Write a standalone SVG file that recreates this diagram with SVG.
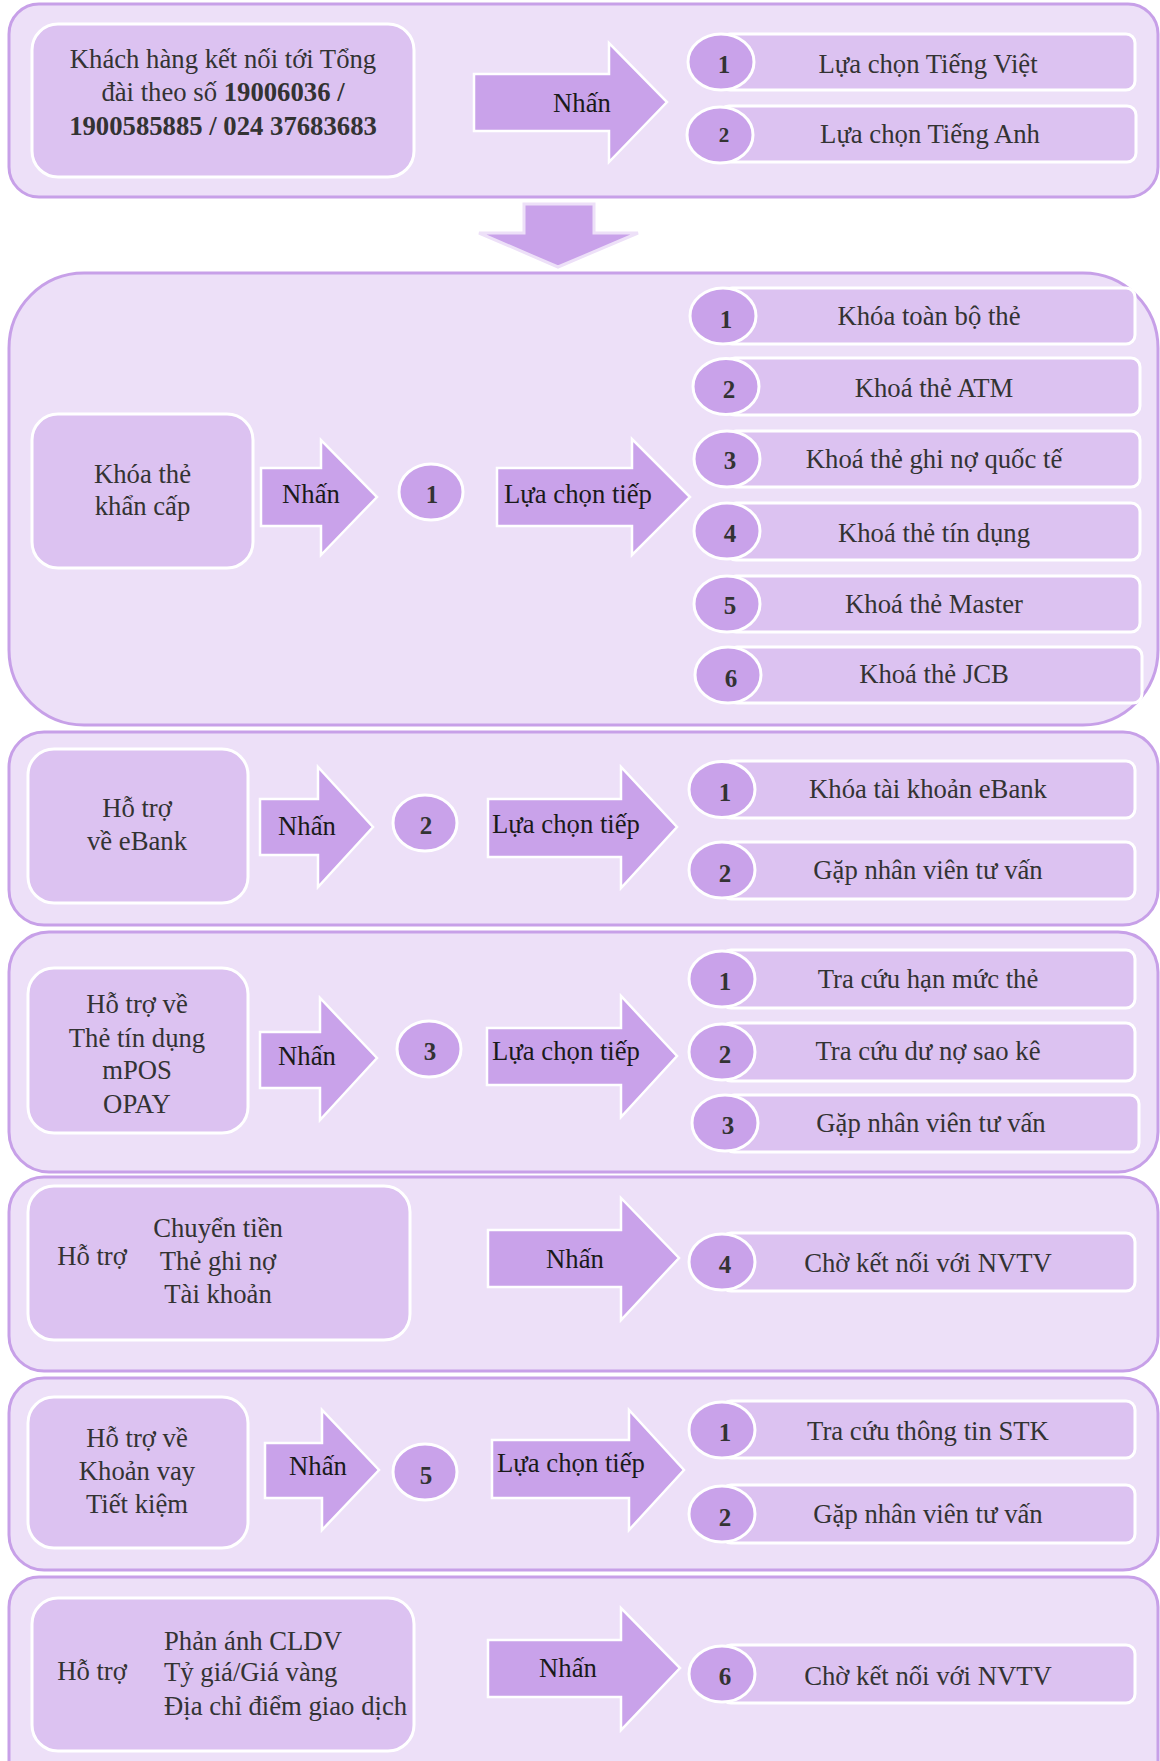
<svg xmlns="http://www.w3.org/2000/svg" width="1160" height="1761" viewBox="0 0 1160 1761">
<style>
.sec{fill:#ede0f8;stroke:#c7a0e8;stroke-width:3}
.box{fill:#dcc2f1;stroke:#ffffff;stroke-width:3}
.arr{fill:#c9a2ea;stroke:#ffffff;stroke-width:2.5}
.down{fill:#c9a2ea;stroke:#ede0f8;stroke-width:3}
.pill{fill:#dcc2f1;stroke:#ffffff;stroke-width:3}
.num{fill:#c9a2ea;stroke:#ffffff;stroke-width:3}
text{font-family:"Liberation Serif","Times New Roman",serif;font-size:26.7px;fill:#333333}
.c{text-anchor:middle}
.b{font-weight:bold}
.n{font-weight:bold;text-anchor:middle;font-size:25px}
.k{fill:#1a1a1a}
</style>

<g id="sec1">
<rect class="sec" x="9" y="4" width="1149" height="193" rx="30"/>
<g id="start">
<rect class="box" x="32" y="24" width="382" height="153" rx="26"/>
<text class="c" x="223" y="68">Khách hàng kết nối tới Tổng</text>
<text class="c" x="223" y="101">đài theo số <tspan class="b">19006036 /</tspan></text>
<text class="c b" x="223" y="135">1900585885 / 024 37683683</text>
</g>
<g id="s1-arrow"><polygon class="arr" points="474,74 609,74 609,43 667,102 609,162 609,131 474,131"/><text class="c k" x="582" y="112">Nhấn</text></g>
<g id="s1-opt1"><rect class="pill" x="721" y="34" width="414" height="56" rx="9"/><ellipse class="num" cx="721" cy="62" rx="33" ry="28"/><text class="n" x="724" y="73">1</text><text class="c" x="928" y="73">Lựa chọn Tiếng Việt</text></g>
<g id="s1-opt2"><rect class="pill" x="720" y="106" width="416" height="56" rx="9"/><ellipse class="num" cx="720" cy="135" rx="33" ry="28"/><text class="n" x="724" y="142" style="font-size:21px">2</text><text class="c" x="930" y="143">Lựa chọn Tiếng Anh</text></g>
</g>

<g id="connectors">
<polygon class="down" points="524,204 594,204 594,233 638,233 558,267 479,233 524,233"/>
</g>

<g id="sec2">
<rect class="sec" x="9" y="273" width="1149" height="452" rx="75"/>
<g id="s2-box"><rect class="box" x="32" y="414" width="221" height="154" rx="26"/><text class="c" x="142.5" y="483">Khóa thẻ</text><text class="c" x="142.5" y="515">khẩn cấp</text></g>
<g id="s2-arrow1"><polygon class="arr" points="261,468 321,468 321,440 377,497 321,555 321,526 261,526"/><text class="c k" x="311" y="503">Nhấn</text></g>
<g id="s2-key"><ellipse class="num" cx="431" cy="492" rx="32" ry="28"/><text class="n" x="432" y="503">1</text></g>
<g id="s2-arrow2"><polygon class="arr" points="497,468 632,468 632,439 690,497 632,555 632,526 497,526"/><text class="c k" x="578" y="503">Lựa chọn tiếp</text></g>
<g id="s2-opt1"><rect class="pill" x="723" y="288" width="412" height="56" rx="9"/><ellipse class="num" cx="723" cy="316" rx="33" ry="28"/><text class="n" x="726" y="328">1</text><text class="c" x="929" y="325">Khóa toàn bộ thẻ</text></g>
<g id="s2-opt2"><rect class="pill" x="726" y="358" width="414" height="57" rx="9"/><ellipse class="num" cx="726" cy="386.5" rx="33" ry="28"/><text class="n" x="729" y="398">2</text><text class="c" x="934" y="397">Khoá thẻ ATM</text></g>
<g id="s2-opt3"><rect class="pill" x="727" y="431" width="413" height="56" rx="9"/><ellipse class="num" cx="727" cy="459" rx="33" ry="28"/><text class="n" x="730" y="469">3</text><text class="c" x="934" y="468">Khoá thẻ ghi nợ quốc tế</text></g>
<g id="s2-opt4"><rect class="pill" x="727" y="503" width="413" height="57" rx="9"/><ellipse class="num" cx="727" cy="531" rx="33" ry="28"/><text class="n" x="730" y="542">4</text><text class="c" x="934" y="542">Khoá thẻ tín dụng</text></g>
<g id="s2-opt5"><rect class="pill" x="727" y="576" width="413" height="56" rx="9"/><ellipse class="num" cx="727" cy="604" rx="33" ry="28"/><text class="n" x="730" y="614">5</text><text class="c" x="934" y="613">Khoá thẻ Master</text></g>
<g id="s2-opt6"><rect class="pill" x="728" y="647" width="414" height="56" rx="9"/><ellipse class="num" cx="728" cy="675" rx="33" ry="28"/><text class="n" x="731" y="687">6</text><text class="c" x="934" y="683">Khoá thẻ JCB</text></g>
</g>

<g id="sec3">
<rect class="sec" x="9" y="732" width="1149" height="193" rx="35"/>
<g id="s3-box"><rect class="box" x="28" y="749" width="220" height="154" rx="26"/><text class="c" x="137" y="817">Hỗ trợ</text><text class="c" x="137" y="850">về eBank</text></g>
<g id="s3-arrow1"><polygon class="arr" points="260,799 318,799 318,767 373,827 318,887 318,855 260,855"/><text class="c k" x="307" y="835">Nhấn</text></g>
<g id="s3-key"><ellipse class="num" cx="425" cy="823" rx="32" ry="28"/><text class="n" x="426" y="834">2</text></g>
<g id="s3-arrow2"><polygon class="arr" points="488,799 621,799 621,767 677,827 621,888 621,857 488,857"/><text class="c k" x="566" y="833">Lựa chọn tiếp</text></g>
<g id="s3-opt1"><rect class="pill" x="722" y="761" width="413" height="57" rx="9"/><ellipse class="num" cx="722" cy="789.5" rx="33" ry="28"/><text class="n" x="725" y="801">1</text><text class="c" x="928" y="798">Khóa tài khoản eBank</text></g>
<g id="s3-opt2"><rect class="pill" x="722" y="842" width="413" height="57" rx="9"/><ellipse class="num" cx="722" cy="870" rx="33" ry="28"/><text class="n" x="725" y="882">2</text><text class="c" x="928" y="879">Gặp nhân viên tư vấn</text></g>
</g>

<g id="sec4">
<rect class="sec" x="9" y="932" width="1149" height="240" rx="40"/>
<g id="s4-box"><rect class="box" x="28" y="968" width="220" height="165" rx="26"/><text class="c" x="137" y="1013">Hỗ trợ về</text><text class="c" x="137" y="1047">Thẻ tín dụng</text><text class="c" x="137" y="1079">mPOS</text><text class="c" x="137" y="1113">OPAY</text></g>
<g id="s4-arrow1"><polygon class="arr" points="260,1032 320,1032 320,998 377,1058 320,1120 320,1088 260,1088"/><text class="c k" x="307" y="1065">Nhấn</text></g>
<g id="s4-key"><ellipse class="num" cx="429" cy="1049" rx="32" ry="28"/><text class="n" x="430" y="1060">3</text></g>
<g id="s4-arrow2"><polygon class="arr" points="487,1028 621,1028 621,996 677,1056 621,1117 621,1085 487,1085"/><text class="c k" x="566" y="1060">Lựa chọn tiếp</text></g>
<g id="s4-opt1"><rect class="pill" x="722" y="950" width="413" height="58" rx="9"/><ellipse class="num" cx="722" cy="979" rx="33" ry="28"/><text class="n" x="725" y="990">1</text><text class="c" x="928" y="988">Tra cứu hạn mức thẻ</text></g>
<g id="s4-opt2"><rect class="pill" x="722" y="1023" width="413" height="58" rx="9"/><ellipse class="num" cx="722" cy="1052" rx="33" ry="28"/><text class="n" x="725" y="1063">2</text><text class="c" x="928" y="1060">Tra cứu dư nợ sao kê</text></g>
<g id="s4-opt3"><rect class="pill" x="725" y="1095" width="414" height="57" rx="9"/><ellipse class="num" cx="725" cy="1123" rx="33" ry="28"/><text class="n" x="728" y="1134">3</text><text class="c" x="931" y="1132">Gặp nhân viên tư vấn</text></g>
</g>

<g id="sec5">
<rect class="sec" x="9" y="1177" width="1149" height="194" rx="35"/>
<g id="s5-box"><rect class="box" x="28" y="1186" width="382" height="154" rx="26"/><text class="c" x="92" y="1265">Hỗ trợ</text><text class="c" x="218" y="1237">Chuyển tiền</text><text class="c" x="218" y="1270">Thẻ ghi nợ</text><text class="c" x="218" y="1303">Tài khoản</text></g>
<g id="s5-arrow"><polygon class="arr" points="488,1230 621,1230 621,1198 679,1258 621,1320 621,1287 488,1287"/><text class="c k" x="575" y="1268">Nhấn</text></g>
<g id="s5-opt4"><rect class="pill" x="722" y="1233" width="413" height="58" rx="9"/><ellipse class="num" cx="722" cy="1262" rx="33" ry="28"/><text class="n" x="725" y="1273">4</text><text class="c" x="928" y="1272">Chờ kết nối với NVTV</text></g>
</g>

<g id="sec6">
<rect class="sec" x="9" y="1378" width="1149" height="192" rx="35"/>
<g id="s6-box"><rect class="box" x="28" y="1397" width="220" height="151" rx="26"/><text class="c" x="137" y="1447">Hỗ trợ về</text><text class="c" x="137" y="1480">Khoản vay</text><text class="c" x="137" y="1513">Tiết kiệm</text></g>
<g id="s6-arrow1"><polygon class="arr" points="265,1443 322,1443 322,1410 379,1470 322,1530 322,1498 265,1498"/><text class="c k" x="318" y="1475">Nhấn</text></g>
<g id="s6-key"><ellipse class="num" cx="425" cy="1472" rx="32" ry="28"/><text class="n" x="426" y="1484">5</text></g>
<g id="s6-arrow2"><polygon class="arr" points="492,1440 629,1440 629,1410 684,1470 629,1530 629,1498 492,1498"/><text class="c k" x="571" y="1472">Lựa chọn tiếp</text></g>
<g id="s6-opt1"><rect class="pill" x="722" y="1401" width="413" height="57" rx="9"/><ellipse class="num" cx="722" cy="1430" rx="33" ry="28"/><text class="n" x="725" y="1441">1</text><text class="c" x="928" y="1440">Tra cứu thông tin STK</text></g>
<g id="s6-opt2"><rect class="pill" x="722" y="1485" width="413" height="58" rx="9"/><ellipse class="num" cx="722" cy="1514" rx="33" ry="28"/><text class="n" x="725" y="1526">2</text><text class="c" x="928" y="1523">Gặp nhân viên tư vấn</text></g>
</g>

<g id="sec7">
<rect class="sec" x="9" y="1577" width="1149" height="215" rx="30"/>
<g id="s7-box"><rect class="box" x="32" y="1598" width="382" height="153" rx="26"/><text class="c" x="92" y="1680">Hỗ trợ</text><text x="164" y="1650">Phản ánh CLDV</text><text x="164" y="1681">Tỷ giá/Giá vàng</text><text x="164" y="1715">Địa chỉ điểm giao dịch</text></g>
<g id="s7-arrow"><polygon class="arr" points="488,1640 621,1640 621,1608 680,1668 621,1730 621,1697 488,1697"/><text class="c k" x="568" y="1677">Nhấn</text></g>
<g id="s7-opt6"><rect class="pill" x="722" y="1645" width="413" height="58" rx="9"/><ellipse class="num" cx="722" cy="1674" rx="33" ry="28"/><text class="n" x="725" y="1685">6</text><text class="c" x="928" y="1685">Chờ kết nối với NVTV</text></g>
</g>
</svg>
